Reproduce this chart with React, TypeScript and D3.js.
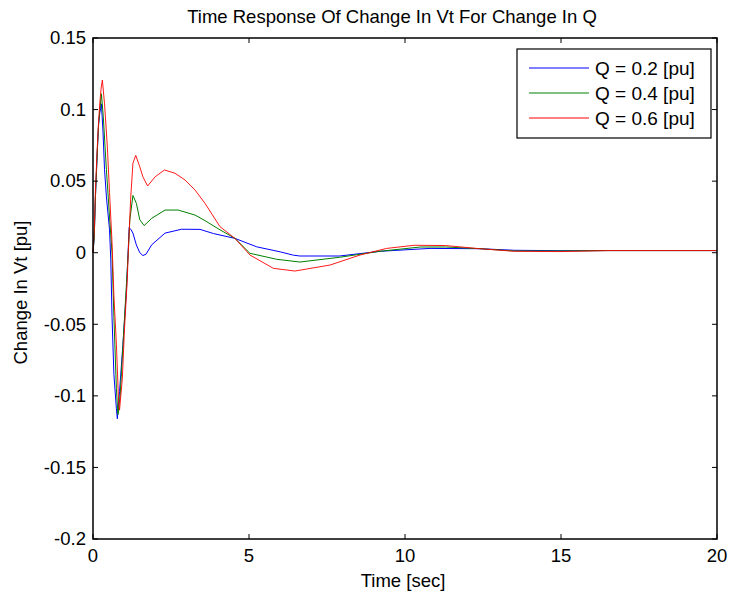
import React from "react";
import * as d3 from "d3";

const xTicks = [0, 5, 10, 15, 20];
const yTicks = [-0.2, -0.15, -0.1, -0.05, 0, 0.05, 0.1, 0.15];
const yTickLabels = ["-0.2", "-0.15", "-0.1", "-0.05", "0", "0.05", "0.1", "0.15"];

const tQ02 = [0, 0.04, 0.08, 0.14, 0.18, 0.22, 0.27, 0.32, 0.37, 0.43, 0.53, 0.57, 0.61, 0.67, 0.75, 0.78, 0.85, 0.96, 1.07, 1.12, 1.16, 1.22, 1.28, 1.39, 1.5, 1.6, 1.7, 1.88, 2.31, 2.84, 3.43, 3.86, 4.55, 5.25, 6.0, 6.42, 6.63, 7.9, 9.2, 10.8, 12.4, 13.5, 15, 16.5, 20];
const vQ02 = [0, 0.011, 0.04, 0.072, 0.09, 0.098, 0.104, 0.085, 0.058, 0.039, 0.016, -0.005, -0.045, -0.085, -0.109, -0.116, -0.097, -0.064, -0.027, -0.002, 0.0175, 0.016, 0.0137, 0.0054, 0.0, -0.002, -0.001, 0.0055, 0.0137, 0.0164, 0.0163, 0.0134, 0.01, 0.0041, 0.0006, -0.0017, -0.0023, -0.0023, 0.001, 0.003, 0.0028, 0.0017, 0.0014, 0.0015, 0.0015];

const tQ04 = [0, 0.04, 0.08, 0.14, 0.18, 0.22, 0.27, 0.33, 0.43, 0.53, 0.61, 0.67, 0.75, 0.8, 0.87, 0.96, 1.05, 1.13, 1.18, 1.28, 1.39, 1.5, 1.64, 1.88, 2.31, 2.73, 3.27, 3.59, 4.07, 4.55, 5.03, 5.89, 6.63, 7.9, 9.2, 10.5, 11.3, 12.4, 13.5, 15, 16.5, 20];
const vQ04 = [0, 0.011, 0.04, 0.072, 0.09, 0.1, 0.111, 0.095, 0.058, 0.025, 0.0, -0.045, -0.095, -0.113, -0.1, -0.065, -0.03, 0.0, 0.023, 0.04, 0.0345, 0.023, 0.019, 0.024, 0.0298, 0.0298, 0.0263, 0.0224, 0.016, 0.01, -0.0004, -0.0046, -0.0065, -0.0032, 0.001, 0.004, 0.004, 0.0028, 0.0012, 0.0012, 0.0015, 0.0015];

const tQ06 = [0, 0.04, 0.08, 0.14, 0.18, 0.22, 0.26, 0.3, 0.37, 0.46, 0.53, 0.61, 0.67, 0.75, 0.82, 0.85, 0.94, 1.01, 1.1, 1.13, 1.21, 1.28, 1.37, 1.5, 1.6, 1.75, 1.99, 2.29, 2.63, 2.95, 3.27, 3.59, 4.07, 4.55, 5.03, 5.78, 6.47, 7.6, 8.56, 9.41, 10.3, 11.3, 12.4, 13.5, 15, 16.5, 20];
const vQ06 = [0, 0.015, 0.045, 0.075, 0.092, 0.105, 0.115, 0.1206, 0.104, 0.074, 0.042, 0.007, -0.03, -0.064, -0.104, -0.11, -0.088, -0.053, -0.018, 0.0, 0.039, 0.0625, 0.068, 0.06, 0.053, 0.0466, 0.053, 0.0578, 0.0555, 0.0508, 0.0438, 0.0345, 0.0182, 0.01, -0.0016, -0.0109, -0.0128, -0.0086, -0.0016, 0.003, 0.0052, 0.005, 0.0028, 0.001, 0.0008, 0.0015, 0.0015];

const seriesNames = ["Q = 0.2 [pu]", "Q = 0.4 [pu]", "Q = 0.6 [pu]"];
const seriesColors = ["#0000ff", "#008000", "#ff0000"];

const L = 93, R = 717, T = 38, B = 539;
const font = "Liberation Sans, Arial, sans-serif";
const fs = 18.5;

export default function App() {
  const x = d3.scaleLinear().domain([0, 20]).range([L, R]);
  const y = d3.scaleLinear().domain([-0.2, 0.15]).range([B, T]);
  const line = d3
    .line<[number, number]>()
    .x((d) => x(d[0]))
    .y((d) => y(d[1]));
  const series = [
    d3.zip(tQ02, vQ02) as [number, number][],
    d3.zip(tQ04, vQ04) as [number, number][],
    d3.zip(tQ06, vQ06) as [number, number][],
  ];
  const tl = 5;
  return (
    <svg
      width={729}
      height={596}
      style={{ position: "absolute", left: 0, top: 0, background: "#fff" }}
      fontFamily={font}
    >
      <rect x={0} y={0} width={729} height={596} fill="#fff" />
      <rect x={L} y={T} width={R - L} height={B - T} fill="#fff" />
      {series.map((s, i) => (
        <path key={i} d={line(s) || ""} fill="none" stroke={seriesColors[i]} strokeWidth={i === 2 ? 0.9 : 1} />
      ))}
      <rect x={L} y={T} width={R - L} height={B - T} fill="none" stroke="#000" strokeWidth={1.5} />
      {xTicks.map((t) => (
        <g key={"x" + t}>
          <line x1={x(t)} x2={x(t)} y1={B} y2={B - tl} stroke="#000" />
          <line x1={x(t)} x2={x(t)} y1={T} y2={T + tl} stroke="#000" />
          <text x={x(t)} y={561.5} fontSize={fs} textAnchor="middle">
            {t}
          </text>
        </g>
      ))}
      {yTicks.map((t, i) => (
        <g key={"y" + i}>
          <line x1={L} x2={L + tl} y1={y(t)} y2={y(t)} stroke="#000" />
          <line x1={R} x2={R - tl} y1={y(t)} y2={y(t)} stroke="#000" />
          <text x={86} y={y(t) + 6.3} fontSize={fs} textAnchor="end">
            {yTickLabels[i]}
          </text>
        </g>
      ))}
      <text x={392} y={23} fontSize={fs} textAnchor="middle">
        Time Response Of Change In Vt For Change In Q
      </text>
      <text x={403} y={586.5} fontSize={fs} textAnchor="middle">
        Time [sec]
      </text>
      <text
        transform={`translate(26.5, 292.5) rotate(-90)`}
        fontSize={fs}
        textAnchor="middle"
      >
        Change In Vt [pu]
      </text>
      <rect x={517} y={49} width={194} height={89} fill="#fff" stroke="#000" strokeWidth={1.2} />
      {seriesNames.map((n, i) => (
        <g key={n}>
          <line x1={529} x2={589} y1={68 + i * 25} y2={68 + i * 25} stroke={seriesColors[i]} />
          <text x={595} y={68 + i * 25 + 7} fontSize={19}>
            {n}
          </text>
        </g>
      ))}
    </svg>
  );
}
